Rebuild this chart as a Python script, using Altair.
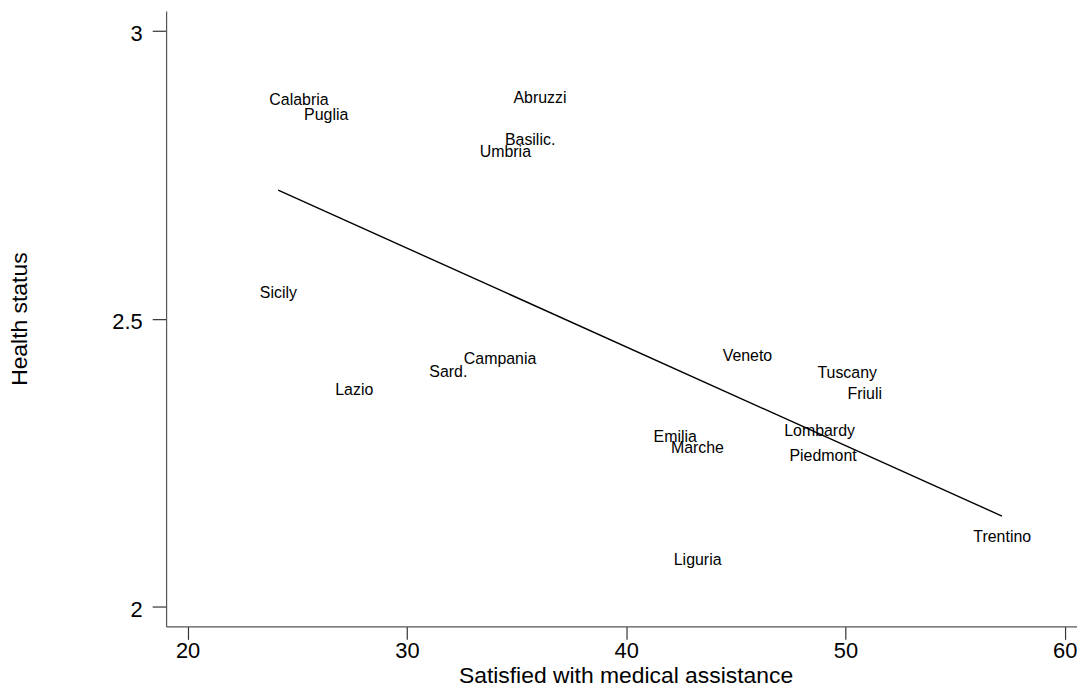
import altair as alt
import pandas as pd

# Region labels and their positions (x = % satisfied with medical assistance, y = health status)
regions = ["Calabria", "Puglia", "Abruzzi", "Basilic.", "Umbria", "Veneto", "Tuscany",
           "Friuli", "Lombardy", "Piedmont", "Emilia", "Marche", "Sicily", "Campania",
           "Sard.", "Lazio", "Liguria", "Trentino"]
satisfied = [25.08, 26.32, 36.07, 35.62, 34.49, 45.53, 50.08,
             50.88, 48.82, 48.98, 42.24, 43.25, 24.14, 34.25,
             31.89, 27.60, 43.26, 57.15]
health = [2.881, 2.856, 2.886, 2.813, 2.792, 2.436, 2.408,
          2.370, 2.306, 2.263, 2.296, 2.277, 2.546, 2.431,
          2.409, 2.377, 2.083, 2.122]

# Linear fit line endpoints
fit_x = [24.13, 57.14]
fit_y = [2.7234, 2.1568]

x_ticks = [20, 30, 40, 50, 60]
y_ticks = [2, 2.5, 3]

df = pd.DataFrame({"region": regions, "satisfied": satisfied, "health": health})
fit = pd.DataFrame({"satisfied": fit_x, "health": fit_y})

FONT = "Liberation Sans"

xscale = alt.Scale(domain=[19.02, 60.56], zero=False, nice=False)
yscale = alt.Scale(domain=[1.965, 3.035], zero=False, nice=False)

x_axis = alt.Axis(title="Satisfied with medical assistance", values=x_ticks, grid=False,
                  tickSize=13, labelFontSize=22, labelPadding=1, labelFlush=False,
                  labelOverlap=False, titleFontSize=23, titleFontWeight="normal",
                  titleX=462, titleY=56, titleAlign="center", titleBaseline="alphabetic")
y_axis = alt.Axis(title="Health status", values=y_ticks, format="~g", grid=False,
                  tickSize=14, labelFontSize=22, labelPadding=10, labelOffset=3,
                  labelFlush=False, labelOverlap=False,
                  titleFontSize=23, titleFontWeight="normal", titleX=-140, titleY=309.5,
                  titleAngle=270, titleAlign="center", titleBaseline="alphabetic")

line = alt.Chart(fit).mark_line(color="black", strokeWidth=1.4).encode(
    x=alt.X("satisfied:Q", scale=xscale, axis=x_axis),
    y=alt.Y("health:Q", scale=yscale, axis=y_axis),
)

labels = alt.Chart(df).mark_text(font=FONT, fontSize=16, color="black", align="center",
                                 baseline="middle", dy=1).encode(
    x=alt.X("satisfied:Q", scale=xscale, axis=x_axis),
    y=alt.Y("health:Q", scale=yscale, axis=y_axis),
    text="region:N",
)

chart = alt.layer(line, labels).properties(
    width=916, height=619,
    padding={"left": 159, "top": 1, "right": 0, "bottom": 57},
    autosize=alt.AutoSizeParams(type="none"),
    background="white",
).configure_view(stroke=None).configure_axis(
    domainColor="#555555", tickColor="#333333", labelColor="black", titleColor="black",
    labelFont=FONT, titleFont=FONT, domainWidth=1.2, tickWidth=1.2,
)

chart.save("out.html", embed_options={"renderer": "svg", "actions": False})
